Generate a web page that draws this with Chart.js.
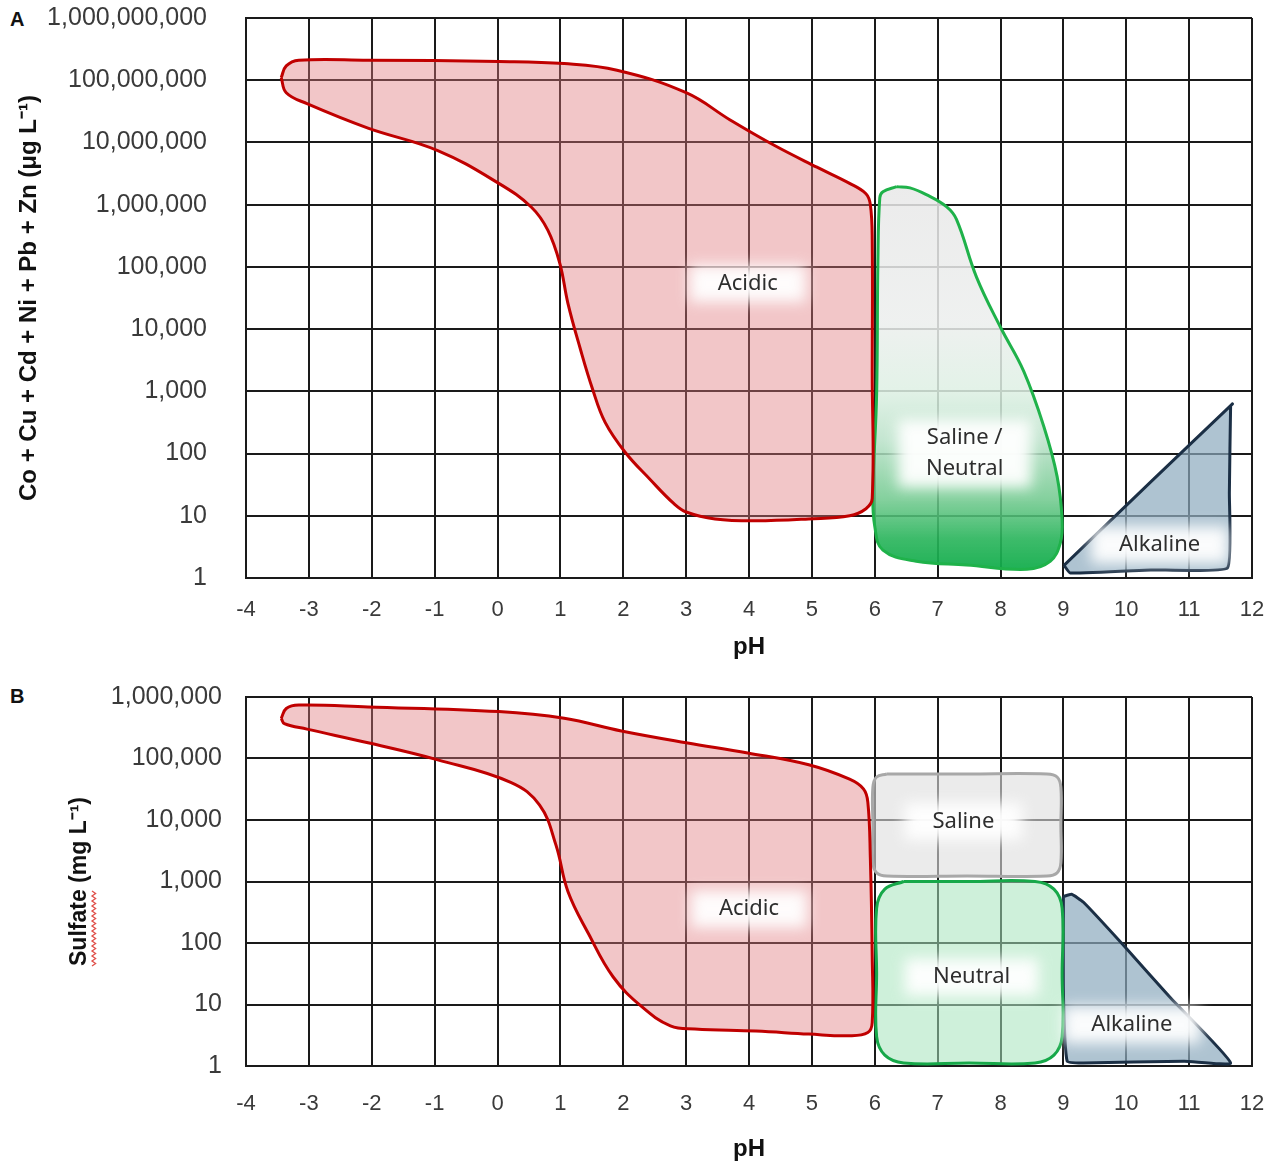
<!DOCTYPE html>
<html>
<head>
<meta charset="utf-8">
<script src="https://cdn.jsdelivr.net/npm/chart.js@4.4.1/dist/chart.umd.min.js"></script>
<style>
body { margin: 0; background: #fff; width: 1280px; height: 1166px; position: relative; overflow: hidden; }
.wrap { position: absolute; left: 0; width: 1280px; }
#wrapA { top: 0; height: 668px; }
#wrapB { top: 668px; height: 498px; }
.panel { position: absolute; left: 10px; font: bold 20px 'Liberation Sans', Arial, sans-serif; color: #111; }
</style>
</head>
<body>
<div class="panel" style="top:8px">A</div>
<div class="panel" style="top:685px">B</div>
<div class="wrap" id="wrapA"><canvas id="chartA"></canvas></div>
<div class="wrap" id="wrapB"><canvas id="chartB"></canvas></div>
<script>
// axis ticks
const phTicks = [-4, -3, -2, -1, 0, 1, 2, 3, 4, 5, 6, 7, 8, 9, 10, 11, 12];
const yTicksA = [1, 10, 100, 1e3, 1e4, 1e5, 1e6, 1e7, 1e8, 1e9];
const yTicksB = [1, 10, 100, 1e3, 1e4, 1e5, 1e6];

// panel A: metals (ug/L) vs pH, region outlines
const acidA_ph = [-3.44, -3.36, -3.16, -2.06, 0.02, 1.06, 1.9, 3.0, 3.7, 4.4, 5.08, 5.6, 5.86, 5.93, 5.96, 5.96, 5.96, 5.86, 5.6, 4.95, 4.11, 3.46, 3.0, 2.81, 2.42, 2.03, 1.71, 1.51, 1.32, 1.12, 0.99, 0.8, 0.54, 0.02, -0.95, -2.06, -3.03, -3.36, -3.44];
const acidA_val = [1.1e8, 1.7e8, 2.1e8, 2.1e8, 2.0e8, 1.85e8, 1.45e8, 6.3e7, 2.3e7, 9.0e6, 4.0e6, 2.2e6, 1.5e6, 1.0e6, 2.7e5, 2000, 19, 13, 10, 8.9, 8.3, 8.9, 11.5, 15.5, 39, 105, 320, 1100, 4700, 26000, 1.15e5, 3.9e5, 9.1e5, 2.2e6, 7.4e6, 1.7e7, 4.2e7, 6.3e7, 1.1e8];

const salineA_ph = [6.35, 6.56, 6.82, 7.14, 7.3, 7.62, 8.0, 8.37, 8.69, 8.9, 8.98, 8.95, 8.79, 8.42, 7.46, 6.66, 6.13, 6.0, 5.97, 6.03, 6.05, 6.08, 6.13, 6.35];
const salineA_val = [1.95e6, 1.86e6, 1.45e6, 9.3e5, 5.8e5, 6.8e4, 1.07e4, 2100, 270, 43, 8.5, 3.6, 1.86, 1.38, 1.62, 1.86, 2.8, 6.8, 23, 910, 1.23e5, 1.29e6, 1.62e6, 1.95e6];

const alkA_ph = [9.01, 9.11, 10.39, 11.61, 11.64, 11.66, 11.69, 10.39, 9.01];
const alkA_val = [1.6, 1.2, 1.35, 1.45, 23, 590, 630, 35, 1.6];

// panel B: sulfate (mg/L) vs pH
const acidB_ph = [-3.44, -3.36, -3.16, -2.06, 0.02, 1.06, 1.97, 3.0, 3.98, 4.95, 5.6, 5.82, 5.89, 5.93, 5.96, 5.96, 5.89, 5.6, 4.95, 4.11, 3.14, 2.75, 2.29, 1.84, 1.45, 1.12, 0.93, 0.67, 0.21, -0.95, -2.06, -3.03, -3.39, -3.44];
const acidB_val = [4.5e5, 6.5e5, 7.4e5, 6.9e5, 5.8e5, 4.5e5, 2.8e5, 1.8e5, 1.23e5, 7.9e4, 4.6e4, 3.2e4, 1.95e4, 2400, 60, 5.1, 3.5, 3.1, 3.3, 3.7, 4.0, 4.5, 9.3, 28, 140, 690, 3900, 1.74e4, 4.1e4, 9.5e4, 1.8e5, 3.0e5, 3.7e5, 4.5e5];

const salineB_ph = [6.19, 7.47, 8.74, 8.9, 8.96, 8.96, 8.96, 8.9, 8.74, 7.47, 6.19, 6.03, 5.97, 5.97, 5.97, 6.03, 6.19];
const salineB_val = [5.6e4, 5.6e4, 5.6e4, 5.0e4, 3.4e4, 8300, 2000, 1380, 1230, 1230, 1230, 1380, 2000, 8300, 3.4e4, 5.0e4, 5.6e4];

const neutralB_ph = [6.46, 7.5, 8.55, 8.85, 8.98, 8.98, 8.98, 8.85, 8.55, 7.5, 6.46, 6.16, 6.03, 6.03, 6.03, 6.16, 6.46];
const neutralB_val = [1000, 1000, 1000, 750, 370, 32, 3.0, 1.5, 1.12, 1.12, 1.12, 1.5, 3.0, 32, 370, 750, 1000];

const alkB_ph = [9.0, 9.13, 9.32, 9.96, 10.71, 11.66, 10.92, 9.32, 9.06, 9.0, 9.0];
const alkB_val = [570, 620, 460, 91, 12.6, 1.12, 1.2, 1.12, 1.2, 16, 570];

// region labels
const labelsA = ['Acidic', 'Saline /\nNeutral', 'Alkaline'];
const labelPhA = [3.98, 7.43, 10.53];
const labelValA = [5.4e4, 100, 3.4];
const labelsB = ['Acidic', 'Saline', 'Neutral', 'Alkaline'];
const labelPhB = [4.0, 7.41, 7.54, 10.09];
const labelValB = [355, 9500, 28, 4.7];

function toPts(xs, ys) {
    return xs.map((x, i) => ({ x: x, y: ys[i] }));
}

function region(xs, ys, border, fill, tension) {
    return {
        data: toPts(xs, ys),
        borderColor: border,
        backgroundColor: fill,
        borderWidth: 3,
        pointRadius: 0,
        fill: 'shape',
        tension: tension
    };
}

function salineFill(context) {
    const chart = context.chart;
    if (!chart.chartArea) return 'rgba(0,0,0,0)';
    const y = chart.scales.y;
    const g = chart.ctx.createLinearGradient(0, y.getPixelForValue(2e6), 0, y.getPixelForValue(1));
    g.addColorStop(0, 'rgba(232,232,232,0.85)');
    g.addColorStop(0.34, 'rgba(236,238,237,0.85)');
    g.addColorStop(0.52, 'rgba(222,240,228,0.85)');
    g.addColorStop(0.65, 'rgba(185,225,200,0.85)');
    g.addColorStop(0.8, 'rgba(110,200,140,0.85)');
    g.addColorStop(0.9, 'rgba(40,180,90,0.9)');
    g.addColorStop(1, 'rgba(10,170,70,0.95)');
    return g;
}

const labelPlugin = {
    id: 'regionLabels',
    afterDatasetsDraw(chart, args, opts) {
        const { ctx, scales } = chart;
        ctx.save();
        ctx.font = '22px "Noto Sans", sans-serif';
        ctx.textAlign = 'center';
        ctx.textBaseline = 'middle';
        opts.texts.forEach((t, i) => {
            const px = scales.x.getPixelForValue(opts.ph[i]);
            const py = scales.y.getPixelForValue(opts.val[i]);
            const lines = t.split('\n');
            const w = Math.max(...lines.map(l => ctx.measureText(l).width)) + 56;
            const h = lines.length * 31 + 6;
            ctx.save();
            ctx.filter = 'blur(7px)';
            ctx.fillStyle = 'rgba(255,255,255,0.95)';
            ctx.fillRect(px - w / 2, py - h / 2, w, h);
            ctx.restore();
            ctx.fillStyle = '#2e2e2e';
            lines.forEach((l, j) => ctx.fillText(l, px, py + (j - (lines.length - 1) / 2) * 31));
        });
        ctx.restore();
    }
};

// spell-check squiggle under "Sulfate"
const squigglePlugin = {
    id: 'squiggle',
    afterDraw(chart, args, opts) {
        if (!opts.word) return;
        const { ctx, scales } = chart;
        const ys = scales.y;
        const t = ys.options.title;
        ctx.save();
        ctx.font = 'bold ' + t.font.size + 'px ' + t.font.family;
        const full = ctx.measureText(t.text).width;
        const wordW = ctx.measureText(opts.word).width;
        const lh = t.font.size * 1.2;
        const cx = ys.left + t.padding.top + lh / 2 + 14;
        const midY = (chart.chartArea.top + chart.chartArea.bottom) / 2;
        const y0 = midY + full / 2;
        const y1 = y0 - wordW;
        ctx.strokeStyle = '#e0504a';
        ctx.lineWidth = 1.3;
        ctx.beginPath();
        let k = 0;
        for (let yy = y0; yy >= y1; yy -= 2.5, k++) {
            const xx = cx + (k % 2 === 0 ? -1.8 : 1.8);
            if (k === 0) ctx.moveTo(xx, yy); else ctx.lineTo(xx, yy);
        }
        ctx.stroke();
        ctx.restore();
    }
};

function makeChart(id, datasets, yTicks, yMax, cfg) {
    const gridColor = '#1a1a1a';
    return new Chart(document.getElementById(id), {
        type: 'line',
        data: { datasets: datasets },
        options: {
            animation: false,
            responsive: true,
            maintainAspectRatio: false,
            layout: { padding: { top: cfg.top, right: 28, left: 0, bottom: 0 } },
            plugins: {
                legend: { display: false },
                tooltip: { enabled: false },
                regionLabels: { texts: cfg.labels, ph: cfg.labelPh, val: cfg.labelVal },
                squiggle: { word: cfg.squiggleWord }
            },
            scales: {
                x: {
                    type: 'linear',
                    min: -4,
                    max: 12,
                    afterBuildTicks: (scale) => { scale.ticks = phTicks.map(v => ({ value: v })); },
                    afterFit: (scale) => { scale.height = cfg.xHeight; },
                    // invisible tick marks give the label gap without widening the layout padding
                    grid: { color: gridColor, lineWidth: 2, drawTicks: true, tickLength: cfg.xTickPad, tickColor: 'rgba(0,0,0,0)' },
                    border: { color: gridColor, width: 2 },
                    ticks: {
                        padding: 0,
                        color: '#3a3a3a',
                        font: { family: "'Liberation Sans Narrow', 'Liberation Sans', sans-serif", size: 22 },
                        callback: (v) => String(v)
                    },
                    title: {
                        display: true,
                        text: 'pH',
                        color: '#111',
                        font: { family: "'Liberation Sans', Arial, sans-serif", size: 24, weight: 'bold' },
                        padding: { top: 0, bottom: cfg.xTitlePad }
                    }
                },
                y: {
                    type: 'logarithmic',
                    min: 1,
                    max: yMax,
                    afterBuildTicks: (scale) => { scale.ticks = yTicks.map(v => ({ value: v })); },
                    afterFit: (scale) => { scale.width = 246; },
                    grid: { color: gridColor, lineWidth: 2, drawTicks: true, tickLength: cfg.yTickPad, tickColor: 'rgba(0,0,0,0)' },
                    border: { color: gridColor, width: 2 },
                    ticks: {
                        padding: 0,
                        color: '#3a3a3a',
                        font: { family: "'Liberation Sans', Arial, sans-serif", size: 25 },
                        callback: (v) => Number(v).toLocaleString('en-US')
                    },
                    title: {
                        display: true,
                        text: cfg.yTitle,
                        color: '#111',
                        font: { family: "'Liberation Sans', Arial, sans-serif", size: cfg.yTitleSize, weight: 'bold' },
                        padding: { top: cfg.yTitlePad, bottom: 0 }
                    }
                }
            }
        },
        plugins: [labelPlugin, squigglePlugin]
    });
}

makeChart('chartA', [
    region(acidA_ph, acidA_val, '#c00000', 'rgba(225,120,125,0.42)', 0.4),
    region(salineA_ph, salineA_val, '#1fb24a', salineFill, 0.4),
    region(alkA_ph, alkA_val, '#1b2f45', 'rgba(140,170,190,0.7)', 0.12)
], yTicksA, 1e9, {
    top: 18, xHeight: 90, xTickPad: 19, xTitlePad: 6, yTickPad: 39, yTitlePad: 15, yTitleSize: 24,
    yTitle: 'Co + Cu + Cd + Ni + Pb + Zn (μg L⁻¹)',
    labels: labelsA, labelPh: labelPhA, labelVal: labelValA, squiggleWord: null
});

makeChart('chartB', [
    region(acidB_ph, acidB_val, '#c00000', 'rgba(225,120,125,0.42)', 0.4),
    region(salineB_ph, salineB_val, '#a8a8a8', 'rgba(222,222,222,0.6)', 0.4),
    region(neutralB_ph, neutralB_val, '#16a849', 'rgba(165,228,188,0.55)', 0.4),
    region(alkB_ph, alkB_val, '#1b2f45', 'rgba(140,170,190,0.7)', 0.15)
], yTicksB, 1e6, {
    top: 29, xHeight: 100, xTickPad: 25, xTitlePad: 2, yTickPad: 24, yTitlePad: 66, yTitleSize: 23,
    yTitle: 'Sulfate (mg L⁻¹)',
    labels: labelsB, labelPh: labelPhB, labelVal: labelValB, squiggleWord: 'Sulfate'
});
</script>
</body>
</html>
